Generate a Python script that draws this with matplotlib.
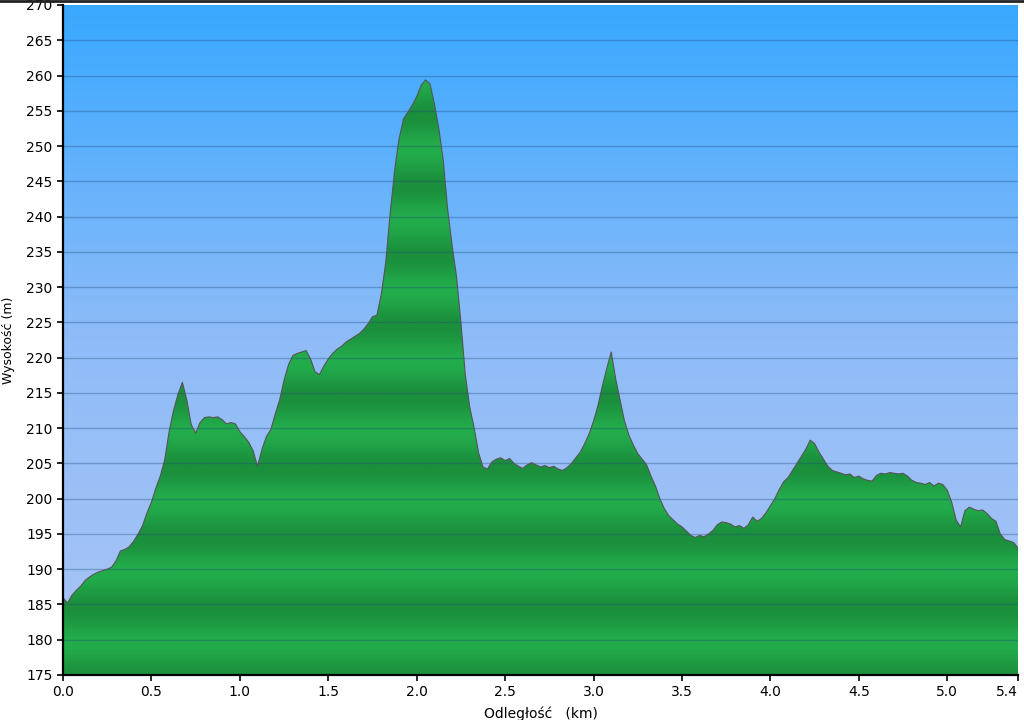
import matplotlib
matplotlib.use("Agg")
import matplotlib.pyplot as plt
import numpy as np
from matplotlib.colors import LinearSegmentedColormap

# profil wysokości, krok 0.025 km
step_km = 0.025
elev = [
    186.0, 185.2, 186.3, 187.0, 187.6, 188.4, 188.9, 189.3,
    189.6, 189.8, 190.0, 190.3, 191.2, 192.6, 192.8, 193.2,
    194.0, 195.0, 196.2, 198.0, 199.5, 201.5, 203.2, 205.5,
    209.5, 212.5, 214.8, 216.5, 214.0, 210.5, 209.3, 210.8,
    211.5, 211.6, 211.5, 211.6, 211.2, 210.6, 210.8, 210.6,
    209.5, 208.8, 208.0, 206.8, 204.6, 207.0, 208.8, 209.8,
    212.0, 214.0, 216.8, 219.0, 220.3, 220.6, 220.8, 221.0,
    219.8, 218.0, 217.6, 218.8, 219.8, 220.6, 221.2, 221.6,
    222.2, 222.6, 223.0, 223.4, 224.0, 224.8, 225.8, 226.0,
    229.0, 233.5, 240.5, 246.5, 251.0, 253.8, 254.8, 255.8,
    257.0, 258.6, 259.4, 258.8, 256.0, 252.5, 248.0, 241.0,
    236.0, 231.5, 225.0, 217.5, 213.0, 210.0, 206.5, 204.5,
    204.2, 205.2, 205.6, 205.8, 205.4, 205.7, 205.0, 204.6,
    204.3, 204.8, 205.1, 204.8, 204.5, 204.7, 204.4, 204.6,
    204.2, 204.0, 204.4, 205.0, 205.8, 206.6, 207.8, 209.2,
    211.0, 213.2, 216.0, 218.5, 220.8, 217.0, 214.0, 211.0,
    209.0, 207.6, 206.4, 205.6, 204.8, 203.2, 201.8, 200.0,
    198.6, 197.6, 197.0, 196.4, 196.0, 195.4, 194.8, 194.5,
    194.8, 194.6, 195.0, 195.5, 196.3, 196.7, 196.6, 196.4,
    196.0, 196.2, 195.8, 196.3, 197.4, 196.8, 197.2, 198.0,
    199.0, 200.0, 201.3, 202.4, 203.0, 204.0, 205.0, 206.0,
    207.0, 208.3, 207.8, 206.6, 205.6, 204.6, 204.0, 203.8,
    203.6, 203.4, 203.5, 203.0, 203.2, 202.8, 202.6, 202.5,
    203.3, 203.6, 203.5, 203.7, 203.6, 203.5, 203.6, 203.2,
    202.6, 202.3, 202.2, 202.0, 202.3, 201.8, 202.2, 202.0,
    201.2, 199.5, 197.0, 196.0, 198.3, 198.8, 198.5, 198.3,
    198.4, 197.9, 197.2, 196.8, 195.0, 194.2, 194.0, 193.8,
    193.0,
]
dist = np.arange(len(elev)) * step_km

x_ticks = [0.0, 0.5, 1.0, 1.5, 2.0, 2.5, 3.0, 3.5, 4.0, 4.5, 5.0, 5.4]
y_ticks = list(range(175, 271, 5))
x_min, x_max = 0.0, 5.4
y_min, y_max = 175, 270

fig = plt.figure(figsize=(10.24, 7.2), dpi=100)
ax = fig.add_axes([63 / 1024, 45 / 720, 955 / 1024, 670 / 720])

# tło - gradient niebieski
sky = LinearSegmentedColormap.from_list("sky", ["#a9c5f5", "#8fbcf8", "#38a8ff"])
grad = np.linspace(0, 1, 256).reshape(-1, 1)
ax.imshow(grad, cmap=sky, origin="lower", aspect="auto",
          extent=[x_min, x_max, y_min, y_max], zorder=0)

# wypełnienie zielone z pasami co 10 m
hh = np.linspace(y_min, y_max, 1200)
band = 0.5 + 0.5 * np.cos(2 * np.pi * (hh - 174.5) / 10.0)
band = band.reshape(-1, 1)
green = LinearSegmentedColormap.from_list("green", ["#23ac4c", "#1b8f3c"])
img = ax.imshow(band, cmap=green, origin="lower", aspect="auto",
                extent=[x_min, x_max, y_min, y_max], zorder=1)
poly = ax.fill_between(dist, y_min, elev, facecolor="none", edgecolor="none", zorder=1)
img.set_clip_path(poly.get_paths()[0], transform=ax.transData)
ax.plot(dist, elev, color="#555555", lw=0.8, zorder=3)

# linie siatki
for yv in y_ticks[1:-1]:
    ax.axhline(yv, color="#1d4a7a", lw=1.0, alpha=0.35, zorder=2)

ax.set_xlim(x_min, x_max)
ax.set_ylim(y_min, y_max)
ax.set_xticks(x_ticks)
ax.set_xticklabels([f"{v:.1f}" for v in x_ticks])
ax.get_xticklabels()[-1].set_horizontalalignment("right")
ax.set_yticks(y_ticks)
ax.tick_params(direction="out", length=4, width=1.2, labelsize=10, colors="black")
for s in ["top", "right"]:
    ax.spines[s].set_visible(False)
for s in ["left", "bottom"]:
    ax.spines[s].set_linewidth(1.6)
    ax.spines[s].set_zorder(5)

ax.set_xlabel("Odległość   (km)", fontsize=10, labelpad=5)
ax.set_ylabel("Wysokość (m)", fontsize=9, labelpad=8)

fig.add_artist(plt.Line2D([0, 1], [0.999, 0.999], color="#222222", lw=2))

fig.savefig("out.png", dpi=100)
